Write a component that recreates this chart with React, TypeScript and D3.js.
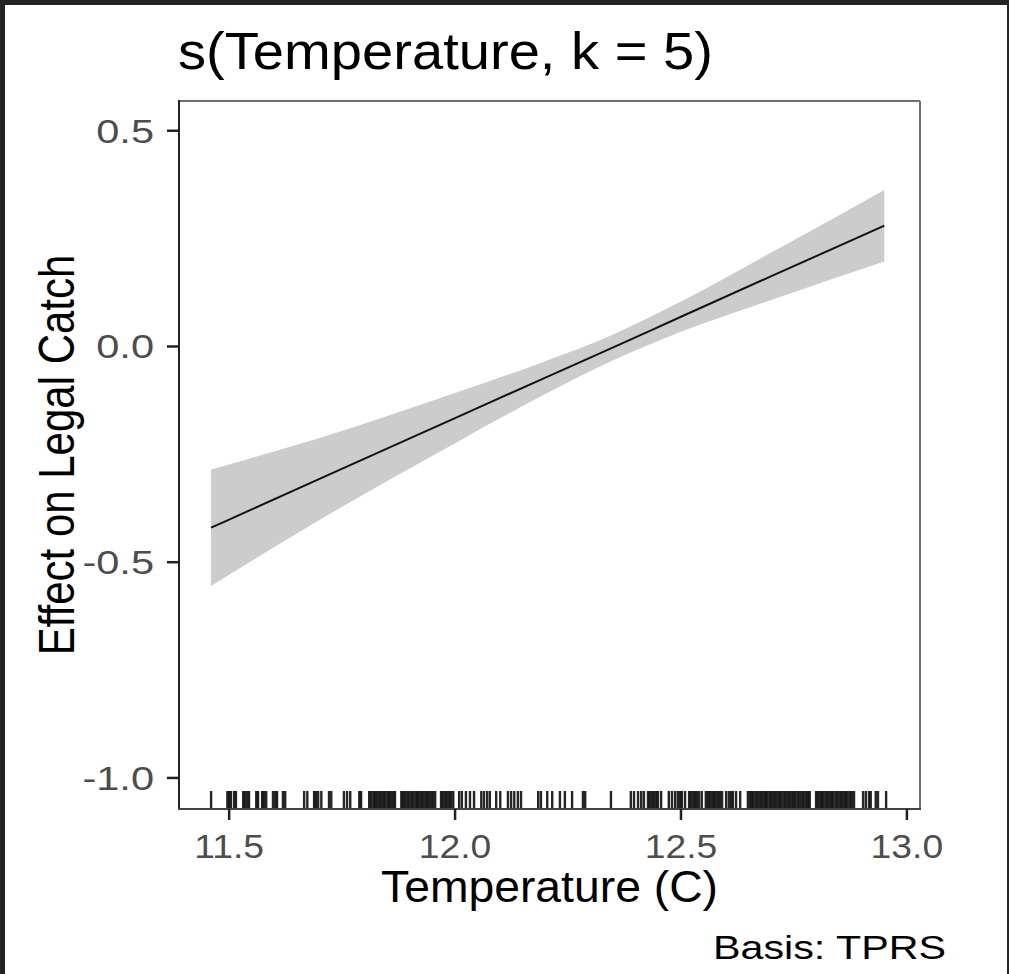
import React from "react";
import * as d3 from "d3";

const chartTitle = "s(Temperature, k = 5)";
const xTitle = "Temperature (C)";
const yTitle = "Effect on Legal Catch";
const caption = "Basis: TPRS";

const xTicks = [11.5, 12.0, 12.5, 13.0];
const xTickLabels = ["11.5", "12.0", "12.5", "13.0"];
const yTicks = [0.5, 0.0, -0.5, -1.0];
const yTickLabels = ["0.5", "0.0", "-0.5", "-1.0"];

// smooth estimate and confidence band
const fitX = [11.46, 11.7, 12.0, 12.2, 12.35, 12.5, 12.7, 12.95];
const fitY = [-0.42, -0.307, -0.166, -0.072, -0.002, 0.069, 0.163, 0.28];
const upperY = [-0.285, -0.212, -0.108, -0.034, 0.028, 0.104, 0.218, 0.363];
const lowerY = [-0.555, -0.402, -0.224, -0.11, -0.032, 0.034, 0.108, 0.197];

// rug of observed temperatures
const rugX = [
  11.46, 11.496, 11.5, 11.504, 11.511, 11.515, 11.531, 11.535, 11.54, 11.544,
  11.56, 11.564, 11.573, 11.577, 11.582, 11.597, 11.602, 11.606, 11.619, 11.624,
  11.666, 11.673, 11.688, 11.692, 11.697, 11.704, 11.721, 11.726, 11.754, 11.761,
  11.768, 11.788, 11.792, 11.81, 11.814, 11.819, 11.823, 11.827, 11.832, 11.836,
  11.841, 11.845, 11.85, 11.854, 11.858, 11.863, 11.867, 11.881, 11.885, 11.889,
  11.894, 11.898, 11.903, 11.907, 11.912, 11.916, 11.92, 11.925, 11.929, 11.934,
  11.938, 11.942, 11.947, 11.951, 11.956, 11.969, 11.973, 11.978, 11.982, 11.987,
  11.991, 11.996, 12.009, 12.015, 12.024, 12.033, 12.042, 12.058, 12.064, 12.071,
  12.077, 12.091, 12.1, 12.117, 12.124, 12.131, 12.139, 12.146, 12.184, 12.19,
  12.204, 12.215, 12.232, 12.243, 12.259, 12.283, 12.288, 12.345, 12.389, 12.396,
  12.405, 12.412, 12.418, 12.427, 12.431, 12.436, 12.44, 12.445, 12.449, 12.456,
  12.473, 12.48, 12.487, 12.493, 12.498, 12.502, 12.509, 12.518, 12.522, 12.527,
  12.531, 12.535, 12.54, 12.546, 12.555, 12.56, 12.564, 12.569, 12.573, 12.577,
  12.582, 12.586, 12.591, 12.6, 12.606, 12.611, 12.615, 12.622, 12.631, 12.648,
  12.653, 12.657, 12.661, 12.666, 12.67, 12.675, 12.679, 12.684, 12.688, 12.692,
  12.697, 12.701, 12.706, 12.71, 12.715, 12.719, 12.723, 12.728, 12.732, 12.737,
  12.741, 12.746, 12.75, 12.754, 12.759, 12.763, 12.768, 12.772, 12.777, 12.781,
  12.785, 12.799, 12.803, 12.808, 12.812, 12.816, 12.821, 12.825, 12.83, 12.834,
  12.838, 12.843, 12.847, 12.852, 12.856, 12.861, 12.865, 12.869, 12.874, 12.878,
  12.883, 12.903, 12.909, 12.916, 12.92, 12.931, 12.936, 12.954,
];

const W = 1009;
const H = 974;
const panel = { left: 179, right: 920, top: 101, bottom: 809 };
const FONT = "'Liberation Sans', Arial, Helvetica, sans-serif";
const SX = 1.18; // horizontal glyph stretch seen in the reference

export default function App() {
  const x = d3.scaleLinear().domain([11.389, 13.029]).range([panel.left, panel.right]);
  const y = d3.scaleLinear().domain([-1.072, 0.569]).range([panel.bottom, panel.top]);

  const idx = d3.range(fitX.length);
  const area = d3
    .area<number>()
    .x((i) => x(fitX[i]))
    .y0((i) => y(lowerY[i]))
    .y1((i) => y(upperY[i]))
    .curve(d3.curveMonotoneX);
  const line = d3
    .line<number>()
    .x((i) => x(fitX[i]))
    .y((i) => y(fitY[i]))
    .curve(d3.curveMonotoneX);

  const rugLen = 18;

  return (
    <svg
      width={W}
      height={H}
      style={{ position: "absolute", left: 0, top: 0, display: "block" }}
      fontFamily={FONT}
    >
      <rect x={0} y={0} width={W} height={H} fill="#242424" />
      <rect x={5} y={5} width={1002} height={969} fill="#ffffff" />

      {/* title */}
      <text x={178} y={69} fontSize={52} fill="#000" textLength={535} lengthAdjust="spacingAndGlyphs">
        {chartTitle}
      </text>

      {/* band + line */}
      <path d={area(idx) || ""} fill="#cccccc" />
      <path d={line(idx) || ""} fill="none" stroke="#111" strokeWidth={2} />

      {/* rug */}
      {rugX.map((v, i) => (
        <line
          key={i}
          x1={x(v)}
          x2={x(v)}
          y1={panel.bottom}
          y2={panel.bottom - rugLen}
          stroke="#000"
          strokeOpacity={0.85}
          strokeWidth={2.4}
        />
      ))}

      {/* panel border */}
      <line x1={panel.left} x2={panel.right} y1={panel.top} y2={panel.top} stroke="#6e6e6e" strokeWidth={2} />
      <line x1={panel.right} x2={panel.right} y1={panel.top} y2={panel.bottom} stroke="#6e6e6e" strokeWidth={2} />
      <line x1={panel.left} x2={panel.left} y1={panel.top - 1} y2={panel.bottom + 1} stroke="#222" strokeWidth={2} />
      <line x1={panel.left - 1} x2={panel.right + 1} y1={panel.bottom} y2={panel.bottom} stroke="#444" strokeWidth={2} />

      {/* y axis */}
      {yTicks.map((t, i) => (
        <g key={t}>
          <line x1={panel.left - 12} x2={panel.left} y1={y(t)} y2={y(t)} stroke="#222" strokeWidth={2.5} />
          <text
            transform={`translate(154, ${y(t)}) scale(${SX + 0.08}, 1)`}
            dy="0.36em"
            textAnchor="end"
            fontSize={33}
            fill="#4d4d4d"
          >
            {yTickLabels[i]}
          </text>
        </g>
      ))}

      {/* x axis */}
      {xTicks.map((t, i) => (
        <g key={t}>
          <line x1={x(t)} x2={x(t)} y1={panel.bottom} y2={panel.bottom + 11} stroke="#222" strokeWidth={2.5} />
          <text
            transform={`translate(${x(t)}, 858) scale(${SX - 0.05}, 1)`}
            textAnchor="middle"
            fontSize={33}
            fill="#4d4d4d"
          >
            {xTickLabels[i]}
          </text>
        </g>
      ))}

      {/* axis titles */}
      <text
        x={(panel.left + panel.right) / 2 - 168.5}
        y={902}
        fontSize={44}
        fill="#000"
        textLength={337}
        lengthAdjust="spacingAndGlyphs"
      >
        {xTitle}
      </text>
      <text
        transform={`translate(74, ${(panel.top + panel.bottom) / 2}) rotate(-90) scale(1, ${SX})`}
        textAnchor="middle"
        fontSize={42}
        fill="#000"
      >
        {yTitle}
      </text>

      {/* caption */}
      <text x={713} y={959} fontSize={34} fill="#000" textLength={233} lengthAdjust="spacingAndGlyphs">
        {caption}
      </text>
    </svg>
  );
}
